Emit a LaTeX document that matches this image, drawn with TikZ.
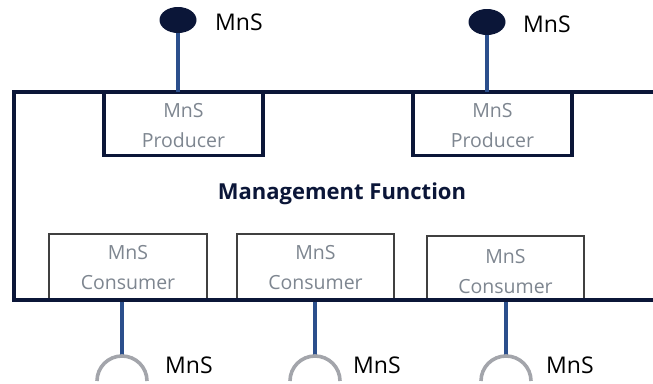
\documentclass[tikz,border=0pt]{standalone}
\usepackage{fontspec}
\usetikzlibrary{shapes.geometric}
\setmainfont{Open Sans}
\definecolor{navy}{HTML}{0B1638}
\definecolor{stick}{HTML}{2B4F8C}
\definecolor{txtgray}{HTML}{7E8690}
\definecolor{arcgray}{HTML}{A3A5AB}
\begin{document}
\begin{tikzpicture}[x=1pt,y=-1pt,
  prodbox/.style={draw=navy,line width=3.5pt,fill=white,inner sep=0pt},
  consbox/.style={draw=black!75,line width=1.4pt,fill=white,inner sep=0pt},
  boxtext/.style={text=txtgray,font=\fontsize{19.5}{30}\selectfont,align=center},
  lbl/.style={text=black,font=\fontsize{23}{26}\selectfont,anchor=west,inner sep=0pt},
  stickline/.style={draw=stick,line width=3.6pt},
  ball/.style={ellipse,fill=navy,minimum width=37pt,minimum height=26pt,inner sep=0pt},
  socket/.style={draw=arcgray,line width=3.6pt}]
\useasboundingbox (0,0) rectangle (653,383);
\begin{scope}
\clip (0,0) rectangle (653,383);
% outer management function frame
\draw[navy,line width=4.5pt] (700,92) -- (14,92) -- (14,300) -- (700,300);
% producers
\node[prodbox,minimum width=159pt,minimum height=63pt] (p1) at (183.5,124) {};
\node[prodbox,minimum width=159pt,minimum height=63pt] (p2) at (492.5,124) {};
\node[boxtext] (p1t) at ([yshift=-2pt]p1.center) {MnS\\Producer};
\node[boxtext] (p2t) at ([yshift=-2pt]p2.center) {MnS\\Producer};
\node[ball] (b1) at (178,20) {};
\node[ball] (b2) at (487,22) {};
\coordinate (p1c) at (178,92);
\coordinate (p2c) at (487,92);
\draw[stickline] (b1.south) -- (p1c);
\draw[stickline] (b2.south) -- (p2c);
\node[lbl] (l1) at (215,22) {MnS};
\node[lbl] (l2) at (523,24) {MnS};
% title
\node[text=navy,font=\fontsize{22}{24}\selectfont\bfseries] (mf) at (342,194) {Management Function};
% consumers
\node[consbox,minimum width=158pt,minimum height=66pt] (c1) at (128,267) {};
\node[consbox,minimum width=157pt,minimum height=66pt] (c2) at (315.5,267) {};
\node[consbox,minimum width=157pt,minimum height=64pt] (c3) at (505.5,268) {};
\node[boxtext] (c1t) at ([yshift=-1pt]c1.center) {MnS\\Consumer};
\node[boxtext] (c2t) at ([yshift=-1pt]c2.center) {MnS\\Consumer};
\node[boxtext] (c3t) at ([yshift=-4pt]c3.center) {MnS\\Consumer};
\draw[navy,line width=4.5pt] (14,300) -- (700,300);
\coordinate (c1b) at (122,302);
\coordinate (c2b) at (315,302);
\coordinate (c3b) at (506,302);
\coordinate (s1) at (122,357);
\coordinate (s2) at (315,357);
\coordinate (s3) at (506,357);
\draw[stickline] (c1b) -- (s1);
\draw[stickline] (c2b) -- (s2);
\draw[stickline] (c3b) -- (s3);
\draw[socket] (97,381) arc[start angle=180,end angle=360,radius=25];
\draw[socket] (290,381) arc[start angle=180,end angle=360,radius=25];
\draw[socket] (481,381) arc[start angle=180,end angle=360,radius=25];
\node[lbl] (m1) at (165,365) {MnS};
\node[lbl] (m2) at (353,365) {MnS};
\node[lbl] (m3) at (546,365) {MnS};
\end{scope}
\end{tikzpicture}
\end{document}
